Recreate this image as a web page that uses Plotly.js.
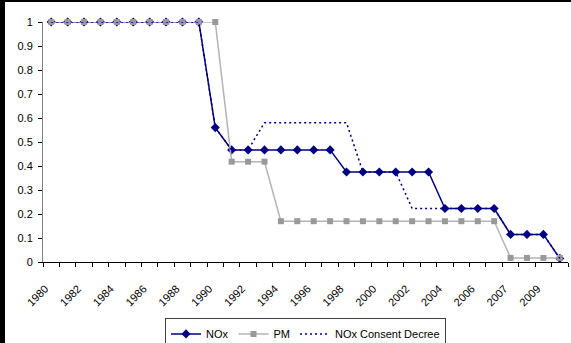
<!DOCTYPE html>
<html>
<head>
<meta charset="utf-8">
<script src="https://cdn.plot.ly/plotly-3.0.1.min.js"></script>
<style>
  html, body { margin: 0; padding: 0; background: #000; width: 571px; height: 343px; overflow: hidden; }
  #chart { position: absolute; left: 5px; top: 2px; width: 566px; height: 341px; background: #fff; }
</style>
</head>
<body>
<div id="chart"></div>
<script>
const years = ["1980","1981","1982","1983","1984","1985","1986","1987","1988","1989",
  "1990","1991","1992","1993","1994","1995","1996","1997","1998","1999",
  "2000","2001","2002","2003","2004","2005","2006","2006","2007","2008","2009","2010"];
const nox = [1,1,1,1,1,1,1,1,1,1,
  0.56,0.467,0.467,0.467,0.467,0.467,0.467,0.467,0.375,0.375,
  0.375,0.375,0.375,0.375,0.223,0.223,0.223,0.223,0.115,0.115,0.115,0.015];
const pm = [1,1,1,1,1,1,1,1,1,1,
  1,0.418,0.418,0.418,0.17,0.17,0.17,0.17,0.17,0.17,
  0.17,0.17,0.17,0.17,0.17,0.17,0.17,0.17,0.017,0.017,0.017,0.017];
const decree = [1,1,1,1,1,1,1,1,1,1,
  0.56,0.467,0.467,0.58,0.58,0.58,0.58,0.58,0.58,0.375,
  0.375,0.375,0.223,0.223,0.223,0.223,0.223,0.223,0.115,0.115,0.115,0.015];
const yTicks = [0,0.1,0.2,0.3,0.4,0.5,0.6,0.7,0.8,0.9,1];

const idx = years.map((_, i) => i);
const labelIdx = idx.filter(i => i % 2 === 0);
const boundaries = idx.map(i => i - 0.5).concat([years.length - 0.5]);

const traces = [
  { x: idx, y: nox, name: "NOx", type: "scatter", mode: "lines+markers",
    line: { color: "#000080", width: 1.5 },
    marker: { symbol: "diamond", size: 7, color: "#000080" }, cliponaxis: false },
  { x: idx, y: pm, name: "PM", type: "scatter", mode: "lines+markers",
    line: { color: "#b4b4b4", width: 1.5 },
    marker: { symbol: "square", size: 6, color: "#999999" }, cliponaxis: false },
  { x: idx, y: decree, name: "NOx Consent Decree", type: "scatter", mode: "lines",
    line: { color: "#000080", width: 1.5, dash: "2px,3px" }, cliponaxis: false },
  { x: [0], y: [null], xaxis: "x2", showlegend: false, hoverinfo: "skip" }
];

const layout = {
  width: 566, height: 341,
  margin: { l: 38, r: 3, t: 20, b: 81, autoexpand: false },
  paper_bgcolor: "#fff", plot_bgcolor: "#fff",
  font: { family: "Liberation Sans, Arial, sans-serif", size: 11, color: "#000" },
  showlegend: true,
  legend: { orientation: "h", x: 0.5, xanchor: "center", y: -0.235, yanchor: "top",
    bordercolor: "#404040", borderwidth: 1, font: { size: 11 }, tracegroupgap: 0 },
  xaxis: { range: [-0.5, years.length - 0.5], tickmode: "array",
    tickvals: labelIdx, ticktext: labelIdx.map(i => years[i]), automargin: false,
    tickangle: -45, ticks: "", showgrid: false, zeroline: false,
    showline: true, linecolor: "#000", linewidth: 1, ticklabelstandoff: 15, ticklabelshift: -6 },
  xaxis2: { overlaying: "x", matches: "x", range: [-0.5, years.length - 0.5],
    tickmode: "array", tickvals: boundaries, showticklabels: false, automargin: false,
    ticks: "outside", ticklen: 4, tickcolor: "#000", showgrid: false, zeroline: false,
    showline: false },
  yaxis: { range: [0, 1], tickmode: "array", tickvals: yTicks, ticktext: yTicks.map(String),
    ticks: "outside", ticklen: 4, tickcolor: "#000", showgrid: false, zeroline: false,
    automargin: false, ticklabelstandoff: 3,
    showline: true, linecolor: "#808080", linewidth: 1 }
};

Plotly.newPlot("chart", traces, layout, { displayModeBar: false, staticPlot: true });
</script>
</body>
</html>
